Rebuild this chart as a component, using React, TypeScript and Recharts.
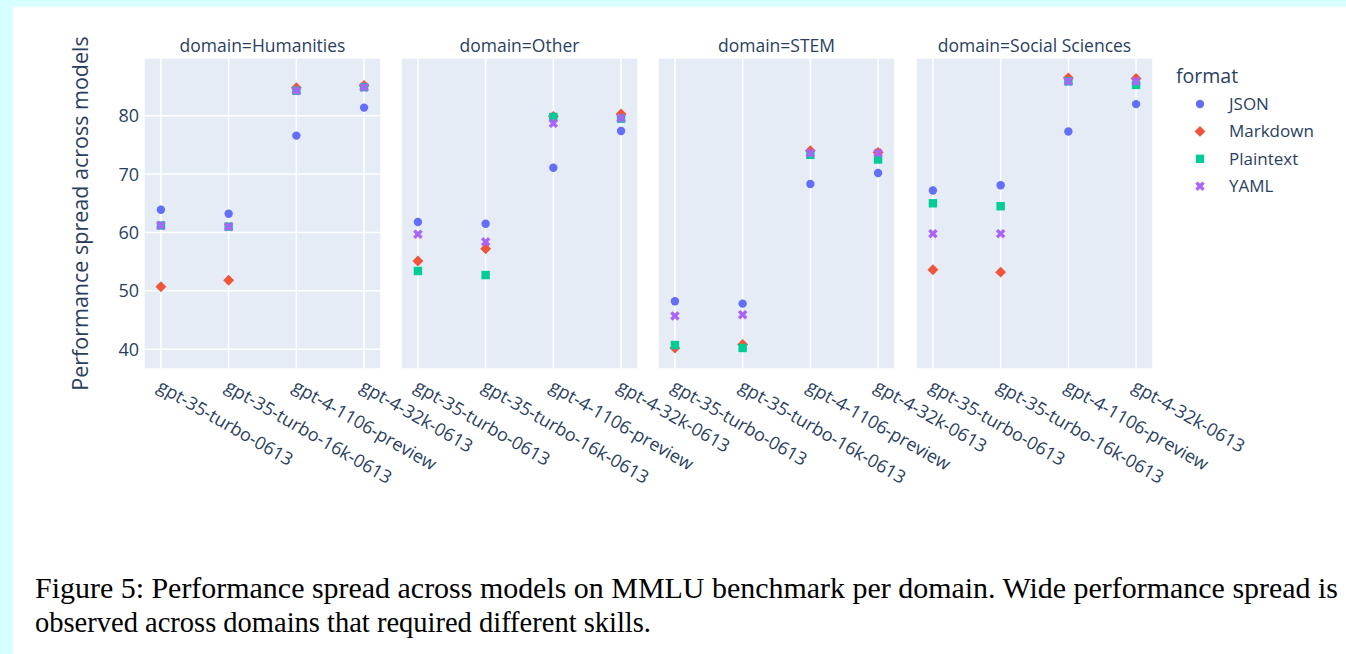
import React from "react";
import { ScatterChart, Scatter, XAxis, YAxis, CartesianGrid } from "recharts";

const models = [
  "gpt-35-turbo-0613",
  "gpt-35-turbo-16k-0613",
  "gpt-4-1106-preview",
  "gpt-4-32k-0613",
];
const domains = ["Humanities", "Other", "STEM", "Social Sciences"];
const formats = ["JSON", "Markdown", "Plaintext", "YAML"];

// rows = domains, columns = models
const jsonScores = [
  [63.9, 63.2, 76.6, 81.4],
  [61.8, 61.5, 71.1, 77.4],
  [48.2, 47.8, 68.3, 70.2],
  [67.2, 68.1, 77.3, 82.0],
];
const markdownScores = [
  [50.7, 51.8, 84.8, 85.2],
  [55.1, 57.2, 79.9, 80.3],
  [40.2, 40.8, 74.0, 73.7],
  [53.6, 53.2, 86.5, 86.4],
];
const plaintextScores = [
  [61.2, 61.0, 84.3, 84.9],
  [53.4, 52.7, 79.8, 79.5],
  [40.7, 40.2, 73.3, 72.5],
  [65.0, 64.5, 85.9, 85.3],
];
const yamlScores = [
  [61.2, 61.0, 84.3, 84.9],
  [59.7, 58.4, 78.7, 79.6],
  [45.7, 45.9, 73.6, 73.6],
  [59.8, 59.8, 85.9, 85.9],
];

const yTicks = [40, 50, 60, 70, 80];
const yDomain = [36.6, 89.9];
const xTicks = [0, 1, 2, 3];
const xDomain = [-0.25, 3.25];

const scoresByFormat = [jsonScores, markdownScores, plaintextScores, yamlScores];
const colors = ["#636efa", "#EF553B", "#00cc96", "#ab63fa"];

const FONT = "'Open Sans', verdana, arial, sans-serif";
const SERIF = "'Liberation Serif', 'Times New Roman', serif";
const TEXT = "#2a3f5f";

const R = 4.2;

function Marker({ kind, cx, cy, color }: { kind: number; cx: number; cy: number; color: string }) {
  if (kind === 0) return <circle cx={cx} cy={cy} r={R} fill={color} />;
  if (kind === 1) {
    const rd = R * 1.3;
    return (
      <path
        d={`M${cx + rd},${cy} L${cx},${cy + rd} L${cx - rd},${cy} L${cx},${cy - rd} Z`}
        fill={color}
      />
    );
  }
  if (kind === 2) {
    return <rect x={cx - R} y={cy - R} width={2 * R} height={2 * R} fill={color} />;
  }
  const rx = (R * 0.8) / Math.SQRT2;
  const ne = `l${rx},${rx}`;
  const se = `l${rx},${-rx}`;
  const sw = `l${-rx},${-rx}`;
  const nw = `l${-rx},${rx}`;
  const d = `M${cx},${cy + rx}` + ne + se + sw + se + sw + nw + sw + nw + ne + nw + ne + "Z";
  return <path d={d} fill={color} />;
}

const plotLefts = [144, 401, 658, 916];
const PLOT_W = 237;
const PLOT_TOP = 58;
const PLOT_H = 311;
const Y_W = 64;
const RIGHT_PAD = 130;
const X_H = 120;

const XTick = (props: any) => {
  const { x, y, payload } = props;
  const px = x - 5;
  const py = y + 21;
  return (
    <text
      x={px}
      y={py}
      transform={`rotate(30, ${px}, ${py})`}
      textAnchor="start"
      fontSize={18}
      fontFamily={FONT}
      fill={TEXT}
    >
      {models[payload.value]}
    </text>
  );
};

function Panel({ di }: { di: number }) {
  const seriesData = scoresByFormat.map((s) =>
    s[di].map((v, mi) => ({ x: mi, y: v }))
  );
  return (
    <div
      style={{
        position: "absolute",
        left: plotLefts[di] - Y_W,
        top: PLOT_TOP,
      }}
    >
      <ScatterChart
        width={Y_W + PLOT_W + RIGHT_PAD}
        height={PLOT_H + X_H}
        margin={{ top: 0, right: RIGHT_PAD, bottom: 0, left: 0 }}
      >
        <CartesianGrid fill="#E5ECF6" stroke="#ffffff" strokeWidth={1.5} />
        <XAxis
          type="number"
          dataKey="x"
          domain={xDomain}
          ticks={xTicks}
          allowDataOverflow
          height={X_H}
          axisLine={false}
          tickLine={false}
          tickSize={0}
          tickMargin={0}
          interval={0}
          tick={<XTick />}
        />
        <YAxis
          type="number"
          dataKey="y"
          domain={yDomain}
          ticks={yTicks}
          allowDataOverflow
          width={Y_W}
          axisLine={false}
          tickLine={false}
          tickSize={0}
          tickMargin={5}
          tick={di === 0 ? { fontSize: 18, fontFamily: FONT, fill: TEXT } : false}
        />
        {seriesData.map((data, fi) => (
          <Scatter
            key={formats[fi]}
            name={formats[fi]}
            data={data}
            isAnimationActive={false}
            shape={(p: any) => <Marker kind={fi} cx={p.cx} cy={p.cy} color={colors[fi]} />}
          />
        ))}
      </ScatterChart>
    </div>
  );
}

export default function App() {
  return (
    <div
      style={{
        position: "absolute",
        left: 0,
        top: 0,
        width: 1346,
        height: 654,
        background: "#d6ffff",
        overflow: "hidden",
      }}
    >
      <div
        style={{
          position: "absolute",
          left: 13,
          top: 7,
          width: 1333,
          height: 647,
          background: "#ffffff",
        }}
      />
      <svg
        width={1346}
        height={654}
        style={{ position: "absolute", left: 0, top: 0 }}
      >
        {domains.map((d, i) => (
          <text
            key={d}
            x={plotLefts[i] + PLOT_W / 2}
            y={51.5}
            textAnchor="middle"
            fontSize={17.5}
            fontFamily={FONT}
            fill={TEXT}
          >
            {`domain=${d}`}
          </text>
        ))}
        <text
          x={88}
          y={PLOT_TOP + PLOT_H / 2}
          transform={`rotate(-90, 88, ${PLOT_TOP + PLOT_H / 2})`}
          textAnchor="middle"
          fontSize={21.5}
          fontFamily={FONT}
          fill={TEXT}
        >
          Performance spread across models
        </text>
        <text x={1176} y={83} fontSize={19.5} fontFamily={FONT} fill={TEXT}>
          format
        </text>
        {formats.map((f, i) => {
          const cy = 104 + i * 27.4;
          return (
            <g key={f}>
              <Marker kind={i} cx={1200} cy={cy} color={colors[i]} />
              <text x={1229} y={cy + 6} fontSize={17} fontFamily={FONT} fill={TEXT}>
                {f}
              </text>
            </g>
          );
        })}
        <text
          x={35}
          y={598}
          fontSize={30}
          style={{ fontFamily: SERIF }}
          fill="#000"
          textLength={1303}
          lengthAdjust="spacingAndGlyphs"
        >
          Figure 5: Performance spread across models on MMLU benchmark per domain.  Wide performance spread is
        </text>
        <text
          x={35}
          y={632}
          fontSize={30}
          style={{ fontFamily: SERIF }}
          fill="#000"
          textLength={616}
          lengthAdjust="spacingAndGlyphs"
        >
          observed across domains that required different skills.
        </text>
      </svg>
      {domains.map((d, i) => (
        <Panel key={d} di={i} />
      ))}
    </div>
  );
}
